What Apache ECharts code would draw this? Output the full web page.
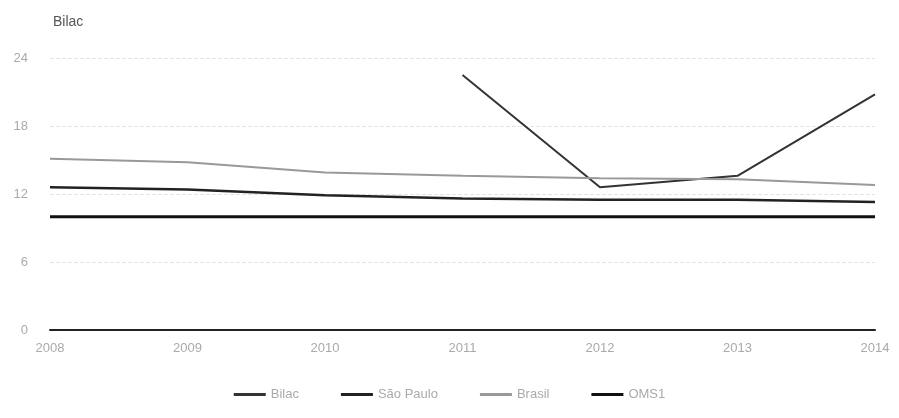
<!DOCTYPE html>
<html><head><meta charset="utf-8">
<script src="https://cdn.jsdelivr.net/npm/echarts@6/dist/echarts.min.js"></script>
<style>html,body{margin:0;padding:0;background:#fff}#c{width:899px;height:418px}</style>
</head><body><div id="c"></div>
<script>
var years = ['2008','2009','2010','2011','2012','2013','2014'];
var bilac = [null, null, null, 22.5, 12.6, 13.6, 20.8];
var saoPaulo = [12.6, 12.4, 11.9, 11.6, 11.5, 11.5, 11.3];
var brasil = [15.1, 14.8, 13.9, 13.6, 13.4, 13.3, 12.8];
var oms1 = [10, 10, 10, 10, 10, 10, 10];
var yTicks = [0, 6, 12, 18, 24];

var chart = echarts.init(document.getElementById('c'));
function s(name, data, color, width) {
  return {name: name, type: 'line', data: data, symbol: 'none', connectNulls: false,
    lineStyle: {color: color, width: width}, itemStyle: {color: color}};
}
chart.setOption({
  animation: false,
  title: {text: 'Bilac', left: 48, top: 10, textStyle: {fontFamily: 'Arial, Liberation Sans', fontSize: 14, fontWeight: 'normal', color: '#555'}},
  grid: {left: 50, right: 24, top: 58, bottom: 88},
  legend: {bottom: 12, left: 'center', itemGap: 42, itemWidth: 32, itemHeight: 3,
    icon: 'rect',
    textStyle: {fontFamily: 'Arial, Liberation Sans', fontSize: 13, color: '#aaa'},
    data: ['Bilac', 'São Paulo', 'Brasil', 'OMS1']},
  xAxis: {type: 'category', data: years, boundaryGap: false,
    axisLine: {show: true, lineStyle: {color: '#222', width: 2}},
    axisTick: {show: false},
    axisLabel: {color: '#aaa', fontSize: 13, fontFamily: 'Arial, Liberation Sans', margin: 12,
      alignMinLabel: 'center', alignMaxLabel: 'center'},
    splitLine: {show: false}},
  yAxis: {type: 'value', min: yTicks[0], max: yTicks[yTicks.length-1], interval: 6,
    axisLine: {show: false}, axisTick: {show: false},
    axisLabel: {color: '#aaa', fontSize: 13, fontFamily: 'Arial, Liberation Sans', margin: 22},
    splitLine: {lineStyle: {color: '#e4e4e4', type: 'dashed', width: 1}}},
  series: [
    s('Bilac', bilac, '#333', 2),
    s('São Paulo', saoPaulo, '#222', 2.5),
    s('Brasil', brasil, '#999', 2),
    s('OMS1', oms1, '#111', 3)
  ]
});
</script></body></html>
